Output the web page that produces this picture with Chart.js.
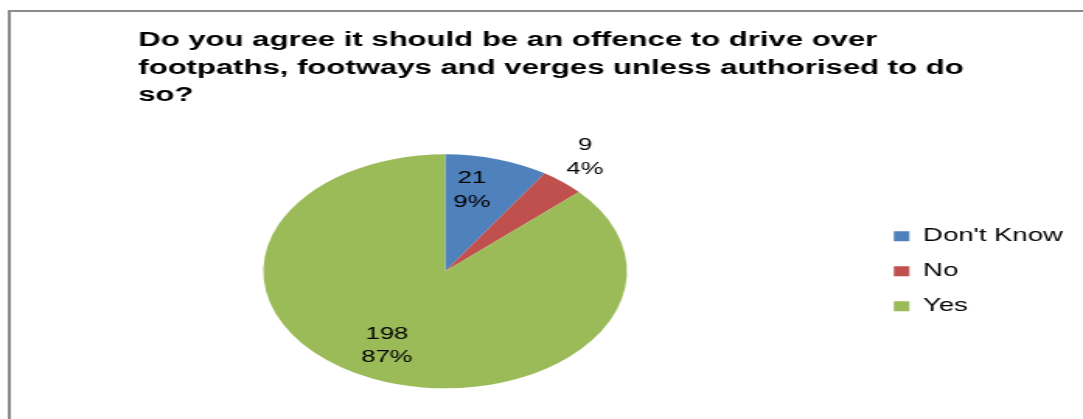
<!DOCTYPE html>
<html>
<head>
<meta charset="utf-8">
<script src="https://cdn.jsdelivr.net/npm/chart.js@4.4.0/dist/chart.umd.min.js"></script>
<style>
  html, body { margin: 0; padding: 0; background: #fff; }
</style>
</head>
<body>
<!-- drawn 697 wide, shown stretched to 1083 -->
<canvas id="chart" width="697" height="419" style="width:1083px;height:419px"></canvas>
<script>
const answers = ["Don't Know", 'No', 'Yes'];
const responses = [21, 9, 198];
const titleLines = [
  'Do you agree it should be an offence to drive over',
  'footpaths, footways and verges unless authorised to do',
  'so?'
];

const sliceColors = ['#4F81BD', '#C0504D', '#9BBB59'];
// where each value label sits: share of the radius, and a small turn off the slice middle (radians)
const labelRadius = [0.707, 1.24, 0.714];
const labelTurn = [-0.08, -0.033, 0.052];
const fontFamily = '"Liberation Sans", Arial, sans-serif';

const total = responses.reduce((a, b) => a + b, 0);

// grey frame along the top and left edge, title pushed in from the left
const frame = {
  id: 'frame',
  afterLayout(chart) {
    chart.titleBlock.left = 89;
  },
  beforeDraw(chart) {
    const ctx = chart.ctx;
    ctx.save();
    ctx.strokeStyle = '#8a8a8a';
    ctx.lineWidth = 2;
    ctx.beginPath();
    ctx.moveTo(6, chart.height);
    ctx.lineTo(6, 11);
    ctx.lineTo(chart.width, 11);
    ctx.stroke();
    ctx.restore();
  }
};

// count and percentage on two lines for every slice
const valueLabels = {
  id: 'valueLabels',
  afterDatasetsDraw(chart) {
    const ctx = chart.ctx;
    const meta = chart.getDatasetMeta(0);
    ctx.save();
    ctx.font = '16.5px ' + fontFamily;
    ctx.fillStyle = '#000';
    ctx.textAlign = 'center';
    ctx.textBaseline = 'middle';
    meta.data.forEach((arc, i) => {
      const { x, y, startAngle, endAngle, outerRadius } =
        arc.getProps(['x', 'y', 'startAngle', 'endAngle', 'outerRadius'], true);
      const angle = (startAngle + endAngle) / 2 + labelTurn[i];
      const r = outerRadius * labelRadius[i];
      const lx = x + Math.cos(angle) * r;
      const ly = y + Math.sin(angle) * r;
      const pct = Math.round(responses[i] / total * 100) + '%';
      ctx.fillText(String(responses[i]), lx, ly - 11.7);
      ctx.fillText(pct, lx, ly + 11.7);
    });
    ctx.restore();
  }
};

new Chart(document.getElementById('chart'), {
  type: 'pie',
  data: {
    labels: answers,
    datasets: [{
      data: responses,
      backgroundColor: sliceColors,
      borderWidth: 0,
      hoverBorderWidth: 0,
      hoverOffset: 0
    }]
  },
  options: {
    responsive: false,
    animation: false,
    devicePixelRatio: 1,
    layout: { padding: { top: 27, left: 15, right: 3, bottom: 30.7 } },
    plugins: {
      title: {
        display: true,
        text: titleLines,
        align: 'start',
        color: '#000',
        font: { family: fontFamily, size: 20, weight: 'bold', lineHeight: 1.37 },
        padding: { top: 0, bottom: 45.1 }
      },
      legend: {
        position: 'right',
        fullSize: false,
        labels: {
          boxWidth: 10,
          boxHeight: 10,
          padding: 17.3,
          color: '#000',
          font: { family: fontFamily, size: 17.7 }
        }
      },
      tooltip: { enabled: false }
    }
  },
  plugins: [frame, valueLabels]
});
</script>
</body>
</html>
